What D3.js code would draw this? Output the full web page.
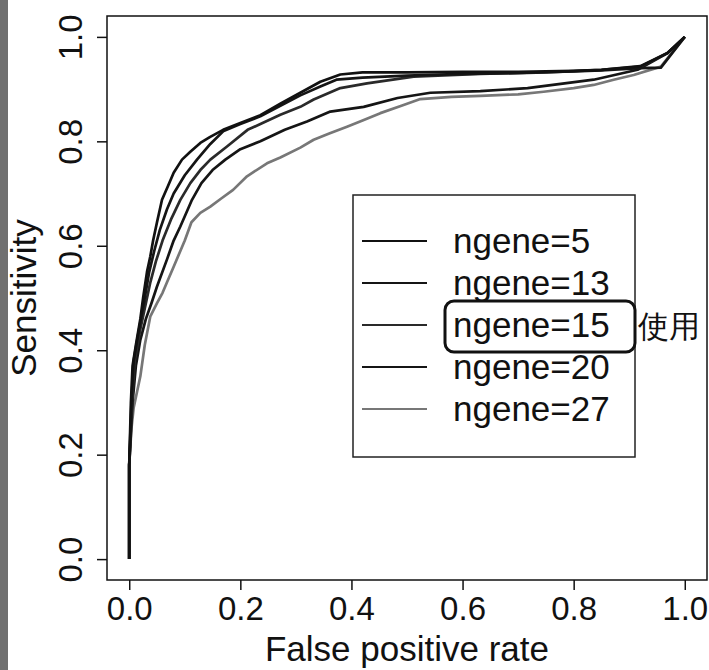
<!DOCTYPE html>
<html>
<head>
<meta charset="utf-8">
<script src="https://cdn.jsdelivr.net/npm/d3@7/dist/d3.min.js"></script>
<style>
  html, body { margin: 0; padding: 0; background: #fff; }
  svg { display: block; }
  text { font-family: "Liberation Sans", Arial, Helvetica, sans-serif; fill: #111; }
</style>
</head>
<body>
<svg id="chart" width="709" height="670"></svg>
<script>
// ---- data ----
const seriesNames = ["ngene=5", "ngene=13", "ngene=15", "ngene=20", "ngene=27"];
const seriesColors = ["#111111", "#151515", "#2a2a2a", "#151515", "#777777"];
const xTicks = [0, 0.2, 0.4, 0.6, 0.8, 1.0];
const yTicks = [0, 0.2, 0.4, 0.6, 0.8, 1.0];
const xTitle = "False positive rate";
const yTitle = "Sensitivity";
const highlightedSeries = "ngene=15";
const highlightNote = "使用";

// each: [false positive rate, sensitivity]
const roc5 = [[0,0],[0,0.18],[0.003,0.3],[0.006,0.37],[0.012,0.41],[0.02,0.46],[0.025,0.5],[0.032,0.55],[0.038,0.58],[0.043,0.61],[0.05,0.645],[0.059,0.688],[0.07,0.715],[0.08,0.74],[0.095,0.765],[0.11,0.78],[0.128,0.797],[0.145,0.808],[0.169,0.822],[0.2,0.835],[0.236,0.85],[0.272,0.872],[0.308,0.893],[0.344,0.914],[0.38,0.928],[0.42,0.932],[0.5,0.932],[0.6,0.933],[0.7,0.933],[0.8,0.935],[0.85,0.937],[0.92,0.944],[0.969,0.969],[1,1]];
const roc13 = [[0,0],[0,0.18],[0.004,0.3],[0.008,0.38],[0.016,0.43],[0.028,0.5],[0.036,0.55],[0.045,0.59],[0.055,0.63],[0.068,0.67],[0.08,0.7],[0.1,0.735],[0.122,0.765],[0.146,0.795],[0.17,0.82],[0.2,0.833],[0.236,0.848],[0.272,0.868],[0.308,0.888],[0.344,0.905],[0.373,0.918],[0.42,0.922],[0.5,0.926],[0.6,0.929],[0.7,0.931],[0.8,0.934],[0.85,0.936],[0.92,0.94],[0.957,0.941],[1,1]];
const roc15 = [[0,0],[0,0.18],[0.005,0.3],[0.01,0.38],[0.02,0.44],[0.03,0.49],[0.038,0.53],[0.048,0.57],[0.06,0.61],[0.075,0.65],[0.092,0.688],[0.11,0.72],[0.128,0.745],[0.146,0.765],[0.176,0.79],[0.213,0.822],[0.24,0.835],[0.272,0.851],[0.308,0.866],[0.332,0.88],[0.38,0.902],[0.428,0.911],[0.512,0.924],[0.632,0.929],[0.75,0.932],[0.85,0.937],[0.92,0.943],[0.969,0.969],[1,1]];
const roc20 = [[0,0],[0,0.18],[0.006,0.3],[0.012,0.37],[0.02,0.42],[0.03,0.46],[0.04,0.49],[0.05,0.522],[0.068,0.574],[0.08,0.61],[0.092,0.637],[0.113,0.688],[0.13,0.72],[0.15,0.745],[0.173,0.765],[0.2,0.785],[0.236,0.8],[0.28,0.822],[0.32,0.838],[0.362,0.857],[0.422,0.866],[0.483,0.883],[0.542,0.893],[0.632,0.896],[0.717,0.902],[0.836,0.918],[0.915,0.937],[0.969,0.969],[1,1]];
const roc27 = [[0,0],[0,0.18],[0.004,0.25],[0.008,0.29],[0.014,0.32],[0.02,0.35],[0.028,0.41],[0.038,0.465],[0.05,0.49],[0.06,0.51],[0.068,0.53],[0.08,0.56],[0.092,0.59],[0.1,0.61],[0.112,0.645],[0.128,0.663],[0.146,0.675],[0.165,0.69],[0.187,0.707],[0.212,0.733],[0.248,0.758],[0.272,0.769],[0.308,0.788],[0.332,0.803],[0.36,0.815],[0.392,0.828],[0.42,0.84],[0.452,0.854],[0.49,0.868],[0.524,0.881],[0.58,0.885],[0.632,0.887],[0.7,0.89],[0.746,0.895],[0.8,0.902],[0.836,0.908],[0.872,0.918],[0.908,0.927],[0.957,0.943],[1,1]];
const seriesValues = [roc5, roc13, roc15, roc20, roc27];

// ---- layout ----
const svg = d3.select("#chart");
const box = { left: 107, right: 707, top: 16, bottom: 580 };

// scanned-page dark strip at the left edge
svg.append("rect").attr("x", 0).attr("y", 0).attr("width", 8).attr("height", 670).attr("fill", "#707070");

const x = d3.scaleLinear().domain([-0.04, 1.04]).range([box.left, box.right]);
const y = d3.scaleLinear().domain([-0.04, 1.04]).range([box.bottom, box.top]);

// axes
const xAxis = svg.append("g").attr("transform", `translate(0,${box.bottom})`)
  .call(d3.axisBottom(x).tickValues(xTicks).tickSize(10).tickPadding(6).tickFormat(d3.format(".1f")));
xAxis.select(".domain").remove();
xAxis.selectAll("line").attr("stroke", "#111").attr("stroke-width", 1.5);
xAxis.selectAll("text").attr("font-size", 33).attr("fill", "#111")
  .attr("font-family", "'Liberation Sans', Arial, sans-serif").attr("dy", null).attr("y", 40);

const yAxis = svg.append("g").attr("transform", `translate(${box.left},0)`)
  .call(d3.axisLeft(y).tickValues(yTicks).tickSize(10).tickFormat(d3.format(".1f")));
yAxis.select(".domain").remove();
yAxis.selectAll("line").attr("stroke", "#111").attr("stroke-width", 1.5);
yAxis.selectAll("text").attr("font-size", 33).attr("fill", "#111")
  .attr("font-family", "'Liberation Sans', Arial, sans-serif")
  .attr("x", null).attr("dy", null)
  .attr("text-anchor", "middle")
  .attr("transform", "translate(-25,0) rotate(-90)");

// plot frame
svg.append("rect").attr("x", box.left).attr("y", box.top)
  .attr("width", box.right - box.left).attr("height", box.bottom - box.top)
  .attr("fill", "none").attr("stroke", "#111").attr("stroke-width", 1.5);

// titles
svg.append("text").attr("x", (box.left + box.right) / 2).attr("y", 661)
  .attr("text-anchor", "middle").attr("font-size", 35).text(xTitle);
svg.append("text").attr("transform", `translate(36,${(box.top + box.bottom) / 2}) rotate(-90)`)
  .attr("text-anchor", "middle").attr("font-size", 35).text(yTitle);

// curves
const line = d3.line().x(d => x(d[0])).y(d => y(d[1]));
svg.append("g").selectAll("path")
  .data(seriesValues.map((v, i) => ({ v, i })).reverse())
  .join("path")
  .attr("d", d => line(d.v))
  .attr("fill", "none")
  .attr("stroke", d => seriesColors[d.i])
  .attr("stroke-width", 2.7)
  .attr("stroke-linejoin", "round");

// legend
const lg = { x0: 353, y0: 195, x1: 635, y1: 457, rowY0: 241, rowStep: 42 };
svg.append("rect").attr("x", lg.x0).attr("y", lg.y0)
  .attr("width", lg.x1 - lg.x0).attr("height", lg.y1 - lg.y0)
  .attr("fill", "#fff").attr("stroke", "#222").attr("stroke-width", 1.5);
const rows = svg.append("g").selectAll("g").data(seriesNames).join("g")
  .attr("transform", (d, i) => `translate(0,${lg.rowY0 + i * lg.rowStep})`);
rows.append("line").attr("x1", 362).attr("x2", 427).attr("y1", 0).attr("y2", 0)
  .attr("stroke", (d, i) => seriesColors[i]).attr("stroke-width", 2);
rows.append("text").attr("x", 453).attr("y", 12).attr("font-size", 35).text(d => d);

// highlight of the chosen model
const hiIdx = seriesNames.indexOf(highlightedSeries);
const hiY = lg.rowY0 + hiIdx * lg.rowStep;
svg.append("rect").attr("x", 445).attr("y", hiY - 24).attr("width", 190).attr("height", 51)
  .attr("rx", 9).attr("ry", 9).attr("fill", "none").attr("stroke", "#111").attr("stroke-width", 3);
svg.append("text").attr("x", 638).attr("y", hiY + 12)
  .attr("font-family", "'Noto Sans CJK JP', 'Noto Sans CJK SC', sans-serif")
  .attr("font-size", 31).text(highlightNote);
</script>
</body>
</html>
